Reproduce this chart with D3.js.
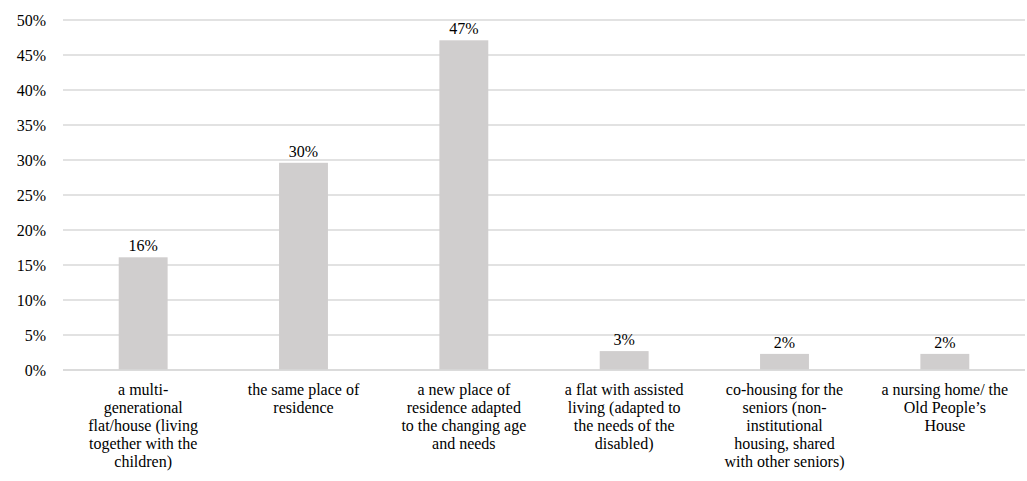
<!DOCTYPE html>
<html>
<head>
<meta charset="utf-8">
<script src="https://cdn.jsdelivr.net/npm/d3@7"></script>
<style>
  body { margin: 0; background: #fff; }
</style>
</head>
<body>
<div id="chart"></div>
<script>
// Data
var categories = [
  ["a multi-", "generational", "flat/house (living", "together with the", "children)"],
  ["the same place of", "residence"],
  ["a new place of", "residence adapted", "to the changing age", "and needs"],
  ["a flat with assisted", "living (adapted to", "the needs of the", "disabled)"],
  ["co-housing for the", "seniors (non-", "institutional", "housing, shared", "with other seniors)"],
  ["a nursing home/ the", "Old People\u2019s", "House"]
];
var values = [16.1, 29.6, 47.1, 2.7, 2.3, 2.3];
var yTicks = [0, 5, 10, 15, 20, 25, 30, 35, 40, 45, 50];

var serif = "'Liberation Serif', 'Times New Roman', 'DejaVu Serif', serif";

// Margin conventions
var margin = {top: 20, right: 2, bottom: 111, left: 63};
var width = 1027 - margin.left - margin.right,
    height = 481 - margin.top - margin.bottom;

var svg = d3.select("#chart")
            .append("svg")
            .attr("width", 1027)
            .attr("height", 481)
            .append("g")
            .attr("transform", "translate(" + margin.left + "," + margin.top + ")");

var xScale = d3.scaleBand()
  .domain(d3.range(categories.length))
  .range([0, width])
  .paddingInner(0.695)
  .paddingOuter(0.3475);

var yScale = d3.scaleLinear()
  .domain([0, 50])
  .range([height, 0]);

// Gridlines
svg.selectAll("line.grid")
   .data(yTicks)
   .enter()
   .append("line")
   .attr("class", "grid")
   .attr("x1", 0)
   .attr("x2", width)
   .attr("y1", function(d) { return yScale(d); })
   .attr("y2", function(d) { return yScale(d); })
   .style("stroke", "#d9d9d9")
   .style("stroke-width", 1.3);

// Y axis labels
var yAxis = d3.axisLeft(yScale)
              .tickValues(yTicks)
              .tickSize(0)
              .tickPadding(17)
              .tickFormat(function(d) { return d + "%"; });

var yAxisGroup = svg.append("g")
                    .attr("class", "y axis")
                    .call(yAxis)
                    .attr("font-family", serif)
                    .attr("font-size", 16);
yAxisGroup.select(".domain").remove();
yAxisGroup.selectAll("text")
          .attr("fill", "#000")
          .attr("dy", "0.35em");

// Bars
svg.selectAll("rect.bar")
   .data(values)
   .enter()
   .append("rect")
   .attr("class", "bar")
   .attr("x", function(d, i) { return xScale(i); })
   .attr("y", function(d) { return yScale(d); })
   .attr("width", xScale.bandwidth())
   .attr("height", function(d) { return height - yScale(d); })
   .style("fill", "#d0cece");

// Baseline
svg.append("line")
   .attr("x1", 0)
   .attr("x2", width)
   .attr("y1", height)
   .attr("y2", height)
   .style("stroke", "#d9d9d9")
   .style("stroke-width", 1.3);

// Value labels
svg.selectAll("text.value")
   .data(values)
   .enter()
   .append("text")
   .attr("class", "value")
   .attr("x", function(d, i) { return xScale(i) + xScale.bandwidth() / 2; })
   .attr("y", function(d) { return yScale(d) - 6; })
   .attr("text-anchor", "middle")
   .attr("font-family", serif)
   .attr("font-size", 16)
   .text(function(d) { return Math.round(d) + "%"; });

// Category labels
var catGroups = svg.selectAll("text.cat")
   .data(categories)
   .enter()
   .append("text")
   .attr("class", "cat")
   .attr("text-anchor", "middle")
   .attr("transform", function(d, i) {
     return "translate(" + (xScale(i) + xScale.bandwidth() / 2) + "," + (height + 25) + ")";
   })
   .attr("font-family", serif)
   .attr("font-size", 16);

catGroups.selectAll("tspan")
   .data(function(d) { return d; })
   .enter()
   .append("tspan")
   .attr("x", 0)
   .attr("y", function(d, j) { return j * 18; })
   .text(function(d) { return d; });
</script>
</body>
</html>
